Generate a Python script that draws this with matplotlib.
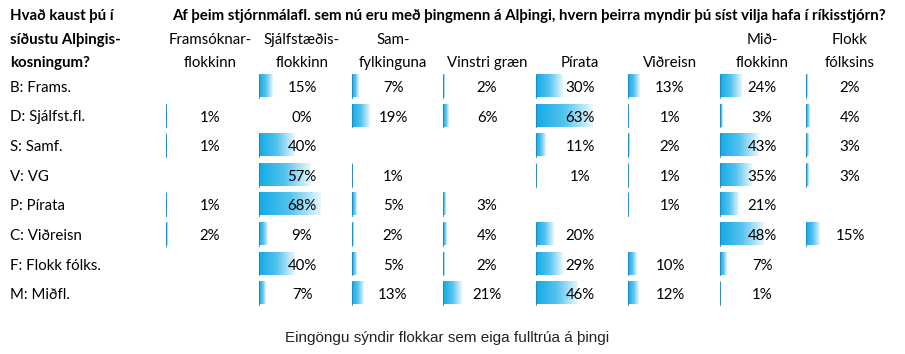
import numpy as np
import matplotlib.pyplot as plt
from matplotlib.colors import LinearSegmentedColormap

rows = ['B: Frams.', 'D: Sjálfst.fl.', 'S: Samf.', 'V: VG', 'P: Pírata',
        'C: Viðreisn', 'F: Flokk fólks.', 'M: Miðfl.']
cols = [('Framsóknar-', 'flokkinn'), ('Sjálfstæðis-', 'flokkinn'),
        ('Sam-', 'fylkinguna'), ('', 'Vinstri græn'), ('', 'Pírata'),
        ('', 'Viðreisn'), ('Mið-', 'flokkinn'), ('Flokk', 'fólksins')]
# None = empty cell (own party)
vals = [
    [None, 15, 7, 2, 30, 13, 24, 2],
    [1, 0, 19, 6, 63, 1, 3, 4],
    [1, 40, None, None, 11, 2, 43, 3],
    [None, 57, 1, None, 1, 1, 35, 3],
    [1, 68, 5, 3, None, 1, 21, None],
    [2, 9, 2, 4, 20, None, 48, 15],
    [None, 40, 5, 2, 29, 10, 7, None],
    [None, 7, 13, 21, 46, 12, 1, None],
]

plt.rcParams['font.family'] = ['Lato', 'DejaVu Sans']

fig = plt.figure(figsize=(9.05, 3.54), dpi=100)
ax = fig.add_axes([0, 0, 1, 1])
ax.axis('off')

cmap = LinearSegmentedColormap.from_list('bar', ['#12aae6', '#55c4ef', '#eaf7fd'])
grad = np.linspace(0, 1, 256).reshape(1, -1)

bar_x = [166, 259, 352, 443, 536, 628, 720, 806]
txt_x = [210, 302, 393, 487, 580, 670, 762, 850]
row_y = [88, 117.5, 147, 177, 206, 236, 265.5, 295]
scale = 0.9  # px per percent
bh = 23

fs = 10.8
# header
ax.text(10, 16, 'Hvað kaust þú í', fontsize=fs, fontweight='bold', va='center')
ax.text(10, 40, 'síðustu Alþingis-', fontsize=fs, fontweight='bold', va='center')
ax.text(10, 63, 'kosningum?', fontsize=fs, fontweight='bold', va='center')
ax.text(172, 16, 'Af þeim stjórnmálafl. sem nú eru með þingmenn á Alþingi, '
        'hvern þeirra myndir þú síst vilja hafa í ríkisstjórn?',
        fontsize=fs, fontweight='bold', va='center')
for j, (l1, l2) in enumerate(cols):
    ax.text(txt_x[j], 40, l1, fontsize=fs, ha='center', va='center')
    ax.text(txt_x[j], 63, l2, fontsize=fs, ha='center', va='center')

for i, name in enumerate(rows):
    y = row_y[i]
    ax.text(10, y, name, fontsize=fs, va='center')
    for j, v in enumerate(vals[i]):
        if v is None:
            continue
        if v > 0:
            x0 = bar_x[j]
            w = max(v * scale, 0.5)
            ax.imshow(grad, cmap=cmap, aspect='auto', interpolation='bilinear',
                      extent=[x0, x0 + w, y + bh / 2 - 2, y - bh / 2 - 2], zorder=1)
            ax.plot([x0 + 0.4, x0 + 0.4], [y - bh / 2 - 2, y + bh / 2 - 2],
                    color='#1a86c0', lw=0.6, zorder=2)
        ax.text(txt_x[j], y, f'{v}%', fontsize=fs, ha='center', va='center', zorder=3)

ax.set_xlim(0, 905)
ax.set_ylim(354, 0)

ax.text(447, 338, 'Eingöngu sýndir flokkar sem eiga fulltrúa á þingi',
        fontsize=11, ha='center', va='center', color='#222222',
        family=['Liberation Sans Narrow', 'Liberation Sans', 'DejaVu Sans'])

fig.savefig('out.png', dpi=100, facecolor='white')
